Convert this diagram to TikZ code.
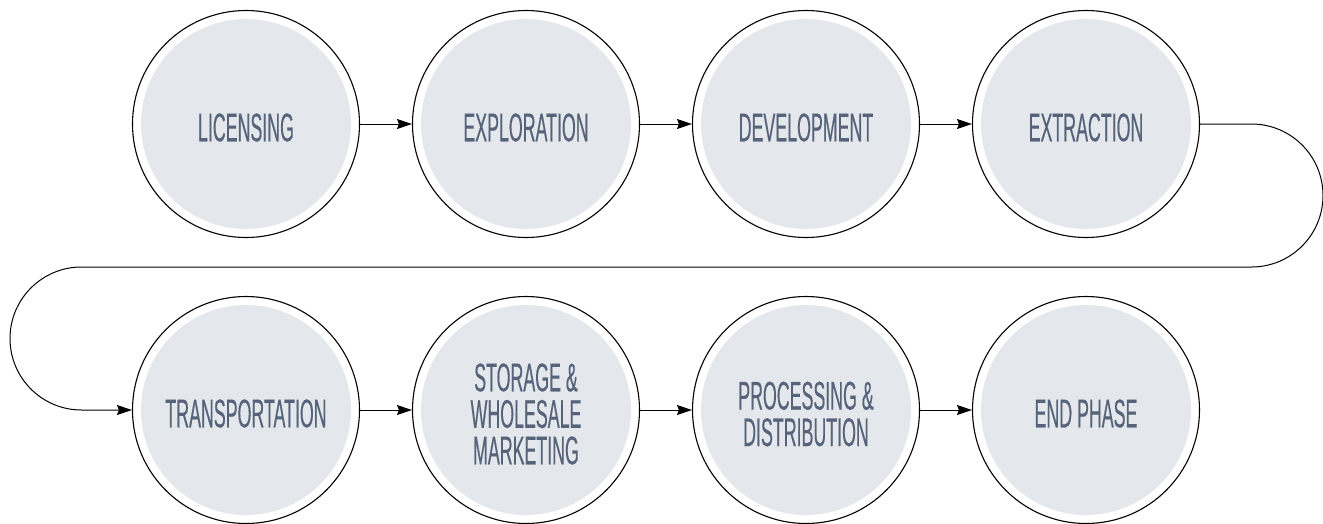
\documentclass[tikz,border=0pt]{standalone}
\usepackage{fontspec}
\newfontfamily\cond[FakeStretch=0.445,FakeBold=0.3]{Liberation Sans}
\usetikzlibrary{arrows.meta}
\definecolor{fillc}{HTML}{E4E8EC}
\definecolor{txtc}{HTML}{56637A}
\tikzset{
  stage/.style={circle, draw=black, line width=1.1pt, fill=white, minimum size=227pt, inner sep=0pt,
    path picture={\fill[fillc] (path picture bounding box.center) circle[radius=105pt];}},
  stagetext/.style={text=txtc, align=center, font=\cond\fontsize{40}{36.5}\selectfont, inner sep=0pt},
  flow/.style={line width=1pt, -{Stealth[length=15pt,width=10pt,inset=2pt]}}
}
\begin{document}
\begin{tikzpicture}[x=1pt,y=-1pt]
\useasboundingbox (0,0) rectangle (1323,523);
\node[stage] (c1) at (246,124) {};
\node[stage] (c2) at (526,124) {};
\node[stage] (c3) at (806,124) {};
\node[stage] (c4) at (1086,124) {};
\node[stage] (c5) at (246,410) {};
\node[stage] (c6) at (526,410) {};
\node[stage] (c7) at (806,410) {};
\node[stage] (c8) at (1086,410) {};
\node[stagetext] (t1) at (246,127.5) {LICENSING};
\node[stagetext] (t2) at (526,127.5) {EXPLORATION};
\node[stagetext] (t3) at (806,127.5) {DEVELOPMENT};
\node[stagetext] (t4) at (1086,127.5) {EXTRACTION};
\node[stagetext] (t5) at (246,413.5) {TRANSPORTATION};
\node[stagetext] (t6) at (526,414) {STORAGE \&\\WHOLESALE\\MARKETING};
\node[stagetext] (t7) at (806,414) {PROCESSING \&\\DISTRIBUTION};
\node[stagetext] (t8) at (1086,413.5) {END PHASE};
\draw[flow] (c1) -- (c2);
\draw[flow] (c2) -- (c3);
\draw[flow] (c3) -- (c4);
\draw[flow] (c5) -- (c6);
\draw[flow] (c6) -- (c7);
\draw[flow] (c7) -- (c8);
\coordinate (r1) at (1323,124);
\coordinate (r2) at (1323,267);
\coordinate (l1) at (10,267);
\coordinate (l2) at (10,410);
\draw[flow, rounded corners=71.5pt] (c4.east) -- (r1) -- (r2) -- (l1) -- (l2) -- (c5.west);
\end{tikzpicture}
\end{document}
